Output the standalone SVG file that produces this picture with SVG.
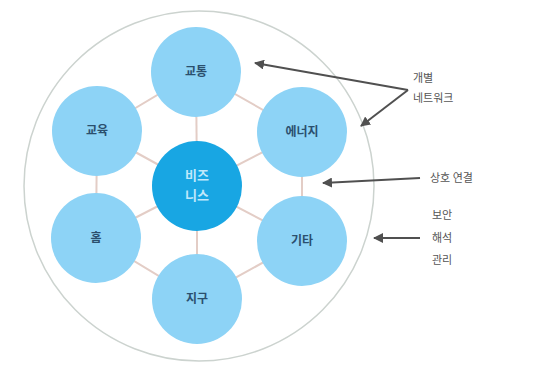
<svg xmlns="http://www.w3.org/2000/svg" width="541" height="366" viewBox="0 0 541 366">
<defs>
<style>
.node{fill:#8dd3f6;}
.hub{fill:#18a6e3;}
.lbl{font-family:"Noto Sans CJK KR","Noto Sans",sans-serif;font-size:12px;font-weight:bold;fill:#2b4f6e;text-anchor:middle;}
.hlbl{font-family:"Noto Sans CJK KR","Noto Sans",sans-serif;font-size:13px;font-weight:bold;fill:#bfe8fb;text-anchor:middle;}
.note{font-family:"Noto Sans CJK KR","Noto Sans",sans-serif;font-size:11px;fill:#555;}
.link{stroke:#e3cdc6;stroke-width:2;fill:none;}
.arr{stroke:#505050;stroke-width:2;fill:none;marker-end:url(#ah);}
</style>
<marker id="ah" viewBox="0 0 10 10" refX="9" refY="5" markerWidth="5" markerHeight="5" orient="auto-start-reverse" markerUnits="strokeWidth">
<path d="M0,0 L10,5 L0,10 z" fill="#505050"/>
</marker>
</defs>
<rect width="541" height="366" fill="#ffffff"/>
<circle id="boundary" cx="199" cy="186" r="175" fill="none" stroke="#ccd3cf" stroke-width="1.5"/>
<g id="connectors">
<line class="link" x1="197" y1="186" x2="196" y2="72"/>
<line class="link" x1="197" y1="186" x2="302" y2="132"/>
<line class="link" x1="197" y1="186" x2="302" y2="241"/>
<line class="link" x1="197" y1="186" x2="197" y2="299"/>
<line class="link" x1="197" y1="186" x2="96" y2="238"/>
<line class="link" x1="197" y1="186" x2="97" y2="131"/>
<polygon class="link" points="196,72 302,132 302,241 197,299 96,238 97,131"/>
<line class="arr" x1="408" y1="90" x2="255" y2="63"/>
<line class="arr" x1="408" y1="90" x2="361" y2="126"/>
<line class="arr" x1="420" y1="178" x2="323" y2="183"/>
<line class="arr" x1="420" y1="238" x2="374" y2="238"/>
</g>
<g id="n-transport"><circle class="node" cx="196" cy="72" r="45"/><text class="lbl" x="196" y="76">교통</text></g>
<g id="n-energy"><circle class="node" cx="302" cy="132" r="45"/><text class="lbl" x="302" y="136">에너지</text></g>
<g id="n-etc"><circle class="node" cx="302" cy="241" r="45"/><text class="lbl" x="302" y="245">기타</text></g>
<g id="n-earth"><circle class="node" cx="197" cy="299" r="45"/><text class="lbl" x="197" y="303">지구</text></g>
<g id="n-home"><circle class="node" cx="96" cy="238" r="45"/><text class="lbl" x="96" y="242">홈</text></g>
<g id="n-edu"><circle class="node" cx="97" cy="131" r="45"/><text class="lbl" x="97" y="135">교육</text></g>
<g id="n-business"><circle class="hub" cx="197" cy="186" r="45"/><text class="hlbl" x="197" y="180">비즈</text><text class="hlbl" x="197" y="200">니스</text></g>
<g id="notes">
<text class="note" x="413" y="82">개별</text>
<text class="note" x="413" y="102">네트워크</text>
<text class="note" x="430" y="182">상호 연결</text>
<text class="note" x="432" y="219">보안</text>
<text class="note" x="432" y="242">해석</text>
<text class="note" x="432" y="264">관리</text>
</g>
</svg>
